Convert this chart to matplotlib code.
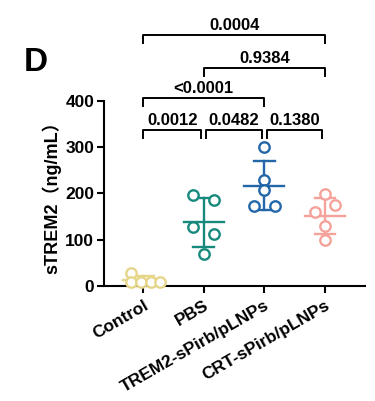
import numpy as np
import matplotlib
matplotlib.use("Agg")
import matplotlib.pyplot as plt

# Data sTREM2 (ng/mL) per kelompok
groups = ["Control", "PBS", "TREM2-sPirb/pLNPs", "CRT-sPirb/pLNPs"]
control = [27, 8, 7, 9, 8]
pbs = [197, 185, 127, 111, 69]
trem2 = [301, 230, 207, 172, 172]
crt = [198, 175, 159, 130, 98]
all_values = [control, pbs, trem2, crt]

# geser horizontal titik (scatter) per kelompok
x_offsets = [
    [-0.2, -0.2, -0.03, 0.13, 0.28],
    [-0.17, 0.17, -0.17, 0.17, 0.0],
    [0.0, 0.0, 0.0, -0.17, 0.17],
    [0.0, 0.17, -0.17, 0.0, 0.0],
]

colors = ["#E6D68A", "#17897D", "#2467A9", "#F5A29A"]

# perbandingan: (grup1, grup2, p-value, tinggi bracket)
comparisons = [
    (0, 1, "0.0012", 337),
    (1, 2, "0.0482", 337),
    (2, 3, "0.1380", 337),
    (0, 2, "<0.0001", 406),
    (1, 3, "0.9384", 472),
    (0, 3, "0.0004", 543),
]

plt.rcParams["font.family"] = ["Liberation Sans", "Noto Sans CJK SC", "DejaVu Sans"]
plt.rcParams["font.weight"] = "bold"

fig = plt.figure(figsize=(3.75, 4.01), dpi=100)
ax = fig.add_axes([0.277, 0.2875, 0.696, 0.4606])

for i, (vals, offs, c) in enumerate(zip(all_values, x_offsets, colors)):
    vals = np.array(vals)
    xs = i + np.array(offs)
    mean = vals.mean()
    sd = vals.std(ddof=1)
    ax.plot([i - 0.33, i + 0.33], [mean, mean], color=c, lw=1.7, zorder=2)
    ax.plot([i, i], [mean - sd, mean + sd], color=c, lw=1.7, zorder=2)
    for y in (mean - sd, mean + sd):
        ax.plot([i - 0.17, i + 0.17], [y, y], color=c, lw=1.7, zorder=2)
    ax.plot(xs, vals, "o", mfc="white", mec=c, mew=1.7, ms=7.5, zorder=3,
            clip_on=False)

ax.set_xlim(-0.65, 3.66)
ax.set_ylim(0, 400)
ax.set_yticks([0, 100, 200, 300, 400])
ax.set_xticks(range(len(groups)))
ax.set_xticklabels(groups, rotation=30, ha="right", rotation_mode="anchor",
                   fontsize=12.5, fontweight="bold")
ax.tick_params(axis="y", labelsize=12.5, width=1.5, length=5, pad=2)
ax.tick_params(axis="x", width=1.5, length=5)
for lab in ax.get_yticklabels():
    lab.set_fontweight("bold")
for s in ["top", "right"]:
    ax.spines[s].set_visible(False)
for s in ["left", "bottom"]:
    ax.spines[s].set_linewidth(1.5)

ax.set_ylabel("sTREM2（ng/mL）", fontsize=13, fontweight="bold", labelpad=3)

# bracket signifikansi
for g1, g2, p, h in comparisons:
    left = g1 + (0.04 if g1 > 0 and g2 - g1 == 1 else 0)
    right = g2 - (0.04 if g2 - g1 == 1 else 0)
    ax.plot([left, left, right, right], [h - 17, h, h, h - 17], color="black",
            lw=1.4, clip_on=False)
    ax.text((left + right) / 2, h + 4, p, ha="center", va="bottom",
            fontsize=12, fontweight="bold", clip_on=False)

fig.text(0.062, 0.843, "D", fontsize=24, fontweight="bold", va="center")

fig.savefig("out.png", dpi=100)
